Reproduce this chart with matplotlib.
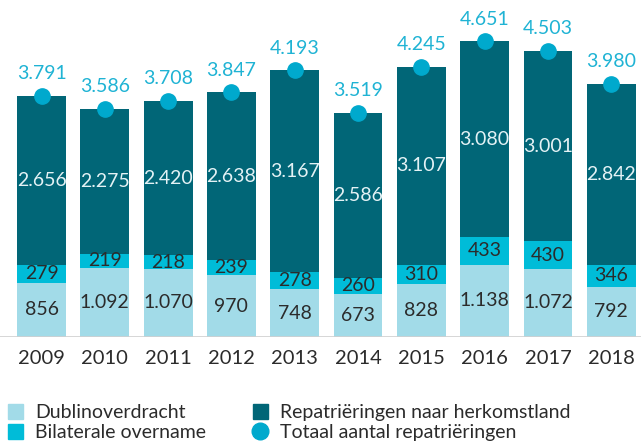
import numpy as np
import matplotlib.pyplot as plt
from matplotlib.patches import Patch
from matplotlib.lines import Line2D

plt.rcParams['font.family'] = ['Lato', 'DejaVu Sans']

# data
years = ['2009', '2010', '2011', '2012', '2013', '2014', '2015', '2016', '2017', '2018']
dublin = [856, 1092, 1070, 970, 748, 673, 828, 1138, 1072, 792]
bilateraal = [279, 219, 218, 239, 278, 260, 310, 433, 430, 346]
repatriering = [2656, 2275, 2420, 2638, 3167, 2586, 3107, 3080, 3001, 2842]
totaal = [3791, 3586, 3708, 3847, 4193, 3519, 4245, 4651, 4503, 3980]

c_light = '#a2dbe8'
c_cyan = '#00bcd8'
c_dark = '#016677'
c_dot = '#00a9cd'


def fmt(v):
    return '{:,}'.format(v).replace(',', '.')


fig = plt.figure(figsize=(6.41, 4.45), dpi=100)
ax = fig.add_axes([0, 1 - 337 / 445, 1, 337 / 445])

x = np.arange(len(years))
w = 0.77
d = np.array(dublin)
b = np.array(bilateraal)
r = np.array(repatriering)

ax.bar(x, d, w, color=c_light)
ax.bar(x, b, w, bottom=d, color=c_cyan)
ax.bar(x, r, w, bottom=d + b, color=c_dark)
ax.plot(x, totaal, 'o', color=c_dot, markersize=11, zorder=3)

for i in range(len(years)):
    ax.text(x[i], d[i] / 2, fmt(dublin[i]), ha='center', va='center', fontsize=14, color='#2b2b2b')
    ax.text(x[i], d[i] + b[i] / 2, fmt(bilateraal[i]), ha='center', va='center', fontsize=14, color='#2b2b2b')
    ax.text(x[i], d[i] + b[i] + r[i] / 2, fmt(repatriering[i]), ha='center', va='center', fontsize=14, color='#e4f2f5')
    ax.text(x[i], totaal[i] + 350, fmt(totaal[i]), ha='center', va='center', fontsize=14, color='#1fb3d4')

ax.axhline(0, color='#d0d0d0', lw=1.2)
ax.set_xlim(-0.656, 9.47)
ax.set_ylim(0, 5300)
for s in ax.spines.values():
    s.set_visible(False)
ax.set_yticks([])
ax.set_xticks(x)
ax.set_xticklabels(years, fontsize=14.5, color='#2b2b2b')
ax.tick_params(axis='x', length=0, pad=9)

handles = [
    Patch(color=c_light, label='Dublinoverdracht'),
    Patch(color=c_cyan, label='Bilaterale overname'),
    Patch(color=c_dark, label='Repatriëringen naar herkomstland'),
    Line2D([], [], marker='o', color=c_dot, linestyle='none', markersize=12, label='Totaal aantal repatriëringen'),
]
fig.legend(handles=handles, ncol=2, loc='upper left', bbox_to_anchor=(0.0, 1 - 396 / 445),
           frameon=False, fontsize=14, handlelength=0.8, handleheight=0.8, handletextpad=0.6,
           columnspacing=2.4, labelspacing=0.15, borderaxespad=0, labelcolor='#2b2b2b')

plt.savefig('out.png', dpi=100)
